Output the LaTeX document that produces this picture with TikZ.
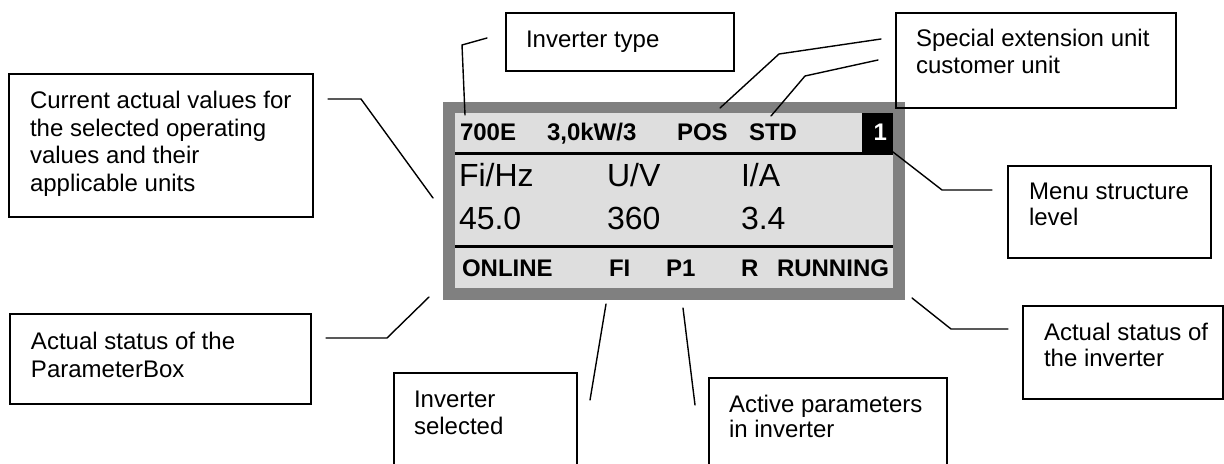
\documentclass[tikz,border=0pt]{standalone}
\usepackage{fontspec}
\setmainfont{Liberation Sans}
\definecolor{framegray}{HTML}{808080}
\definecolor{panelgray}{HTML}{DEDEDE}
\tikzset{
  box/.style={draw, line width=0.8pt, inner sep=0pt, outer sep=0pt, anchor=north west},
  conn/.style={line width=0.7pt, line cap=round, line join=miter},
  lbl/.style={anchor=base west, inner sep=0pt, outer sep=0pt, font=\fontsize{12}{14}\selectfont},
  dtop/.style={anchor=base west, inner sep=0pt, outer sep=0pt, font=\fontsize{12}{14}\selectfont\bfseries},
  dbig/.style={anchor=base west, inner sep=0pt, outer sep=0pt, font=\fontsize{16}{18}\selectfont},
  thickrule/.style={line width=1.5pt},
}
\begin{document}
\begin{tikzpicture}[x=0.5pt, y=-0.5pt]
\useasboundingbox (0,0) rectangle (1224,464);
\clip (0,0) rectangle (1224,464);

% ---- display ----
\node[anchor=north west, fill=framegray, inner sep=0pt, outer sep=0pt, minimum width=231pt, minimum height=99pt] (disp) at (443,102) {};
\node[anchor=north west, fill=panelgray, inner sep=0pt, outer sep=0pt, minimum width=219pt, minimum height=87.5pt] (panel) at (455,113) {};
\node[anchor=north west, fill=black, inner sep=0pt, outer sep=0pt, minimum width=15.5pt, minimum height=20.5pt] (lvl) at (862,113) {};
\coordinate (r1a) at (455,153.5);
\coordinate (r1b) at (893,153.5);
\coordinate (r2a) at (455,246.5);
\coordinate (r2b) at (893,246.5);
\draw[thickrule] (r1a) -- (r1b);
\draw[thickrule] (r2a) -- (r2b);

\node[dtop] (t1) at (460,141) {700E};
\node[dtop] (t2) at (547,141) {3,0kW/3};
\node[dtop] (t3) at (677,141) {POS};
\node[dtop] (t4) at (749,141) {STD};
\node[dtop, text=white] (t5) at (873.5,141) {1};

\node[dbig] (m1) at (459,187) {Fi/Hz};
\node[dbig] (m2) at (607,187) {U/V};
\node[dbig] (m3) at (741,187) {I/A};
\node[dbig] (v1) at (459,230) {45.0};
\node[dbig] (v2) at (607,230) {360};
\node[dbig] (v3) at (741,230) {3.4};

\node[dtop] (s1) at (462,277) {ONLINE};
\node[dtop] (s2) at (609,277) {FI};
\node[dtop] (s3) at (666,277) {P1};
\node[dtop] (s4) at (741,277) {R};
\node[dtop] (s5) at (777,277) {RUNNING};

% ---- label boxes ----
\node[box, minimum width=152pt, minimum height=71.5pt] (bcur) at (9,74) {};
\node[lbl] (bcur1) at (30,109) {Current actual values for};
\node[lbl] (bcur2) at (30,136.5) {the selected operating};
\node[lbl] (bcur3) at (30,164) {values and their};
\node[lbl] (bcur4) at (30,191.5) {applicable units};

\node[box, minimum width=114pt, minimum height=29pt] (btype) at (506,13) {};
\node[lbl] (btype1) at (526,48) {Inverter type};

\node[box, minimum width=140pt, minimum height=47.5pt] (bspec) at (896,13) {};
\node[lbl] (bspec1) at (916,47) {Special extension unit};
\node[lbl] (bspec2) at (916,73.5) {customer unit};

\node[box, minimum width=101.5pt, minimum height=46pt] (bmenu) at (1008,166) {};
\node[lbl] (bmenu1) at (1029,200) {Menu structure};
\node[lbl] (bmenu2) at (1029,226) {level};

\node[box, minimum width=100pt, minimum height=46.5pt] (binv) at (1023,306) {};
\node[lbl] (binv1) at (1044,340) {Actual status of};
\node[lbl] (binv2) at (1044,366) {the inverter};

\node[box, minimum width=150.5pt, minimum height=45pt] (bpbox) at (10,314) {};
\node[lbl] (bpbox1) at (31,350) {Actual status of the};
\node[lbl] (bpbox2) at (31,377) {ParameterBox};

\node[box, minimum width=91.5pt, minimum height=60pt] (bsel) at (394,373) {};
\node[lbl] (bsel1) at (414,407) {Inverter};
\node[lbl] (bsel2) at (414,434) {selected};

\node[box, minimum width=119pt, minimum height=60pt] (bact) at (709,378) {};
\node[lbl] (bact1) at (729,412) {Active parameters};
\node[lbl] (bact2) at (729,437) {in inverter};

% ---- connectors ----
\coordinate (c1a) at (328,99);  \coordinate (c1b) at (361,99);  \coordinate (c1c) at (433,198);
\draw[conn] (c1a) -- (c1b) -- (c1c);
\coordinate (c2a) at (487,38);  \coordinate (c2b) at (462,45);  \coordinate (c2c) at (465,115);
\draw[conn] (c2a) -- (c2b) -- (c2c);
\coordinate (c3a) at (881,39);  \coordinate (c3b) at (779,54);  \coordinate (c3c) at (720,108);
\draw[conn] (c3a) -- (c3b) -- (c3c);
\coordinate (c4a) at (878,60);  \coordinate (c4b) at (805,76);  \coordinate (c4c) at (771,116);
\draw[conn] (c4a) -- (c4b) -- (c4c);
\coordinate (c5a) at (893,152); \coordinate (c5b) at (942,190); \coordinate (c5c) at (992,190);
\draw[conn] (c5a) -- (c5b) -- (c5c);
\coordinate (c6a) at (912,298); \coordinate (c6b) at (951,329); \coordinate (c6c) at (1008,329);
\draw[conn] (c6a) -- (c6b) -- (c6c);
\coordinate (c7a) at (326,338); \coordinate (c7b) at (387,338); \coordinate (c7c) at (429,297);
\draw[conn] (c7a) -- (c7b) -- (c7c);
\coordinate (c8a) at (606,304); \coordinate (c8b) at (590,400);
\draw[conn] (c8a) -- (c8b);
\coordinate (c9a) at (683,308); \coordinate (c9b) at (695,405);
\draw[conn] (c9a) -- (c9b);
\end{tikzpicture}
\end{document}
